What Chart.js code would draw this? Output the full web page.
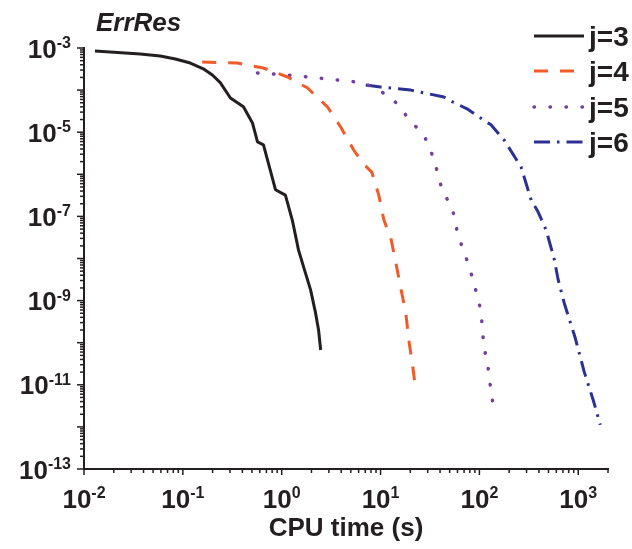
<!DOCTYPE html>
<html><head><meta charset="utf-8">
<script src="https://cdn.jsdelivr.net/npm/chart.js@4/dist/chart.umd.min.js"></script>
<style>html,body{margin:0;padding:0;background:#fff;}#wrap{width:632px;height:549px;position:relative;}</style>
</head><body><div id="wrap"><canvas id="c" width="632" height="549"></canvas></div>
<script>
// ---- data ----
const seriesNames = ['j=3', 'j=4', 'j=5', 'j=6'];

const time_j3 = [0.0129, 0.037, 0.059, 0.084, 0.119, 0.161, 0.199, 0.239, 0.303, 0.41, 0.506, 0.569, 0.654, 0.865, 1.09, 1.28, 1.48, 1.74, 1.96, 2.20, 2.36, 2.48];
const err_j3  = [8.5e-4, 7.2e-4, 6.46e-4, 5.5e-4, 4.4e-4, 3.2e-4, 2.29e-4, 1.5e-4, 6.5e-5, 4.0e-5, 1.66e-5, 5.9e-6, 5.0e-6, 4.3e-7, 3.2e-7, 8.2e-8, 1.58e-8, 4.5e-9, 1.8e-9, 5.1e-10, 2.0e-10, 6.7e-11];

const time_j4 = [0.157, 0.356, 0.653, 1.145, 1.83, 2.91, 3.95, 5.35, 6.6, 8.15, 9.6, 10.8, 12.7, 14.3, 16.0, 18.0, 19.3, 21.2, 22.8];
const err_j4  = [4.65e-4, 4.4e-4, 3.35e-4, 2.05e-4, 1.12e-4, 3.97e-5, 1.33e-5, 3.78e-6, 1.85e-6, 1.13e-6, 3.2e-7, 8.2e-8, 3.07e-8, 7.8e-9, 2.0e-9, 5.1e-10, 1.17e-10, 2.65e-11, 6.8e-12];

const time_j5 = [0.569, 1.145, 2.31, 4.75, 6.76, 9.4, 12.7, 16.0, 20.2, 26.8, 31.5, 35.5, 38.9, 42.8, 52.7, 56.6, 60.7, 68.2, 76.6, 84.1, 92.4, 101.4, 106, 109, 114, 122, 128, 134, 141];
const err_j5  = [2.55e-4, 2.29e-4, 1.94e-4, 1.64e-4, 1.48e-4, 1.0e-4, 6.85e-5, 3.76e-5, 1.75e-5, 9.6e-6, 4.2e-6, 1.86e-6, 8.2e-7, 3.6e-7, 1.78e-7, 7.8e-8, 3.6e-8, 1.68e-8, 7.8e-9, 3.8e-9, 1.69e-9, 7.0e-10, 3.1e-10, 1.36e-10, 6.0e-11, 2.65e-11, 1.1e-11, 5.1e-12, 2.2e-12];

const time_j6 = [7.08, 10.0, 20.2, 43.7, 54, 75, 99, 131, 178, 264, 334, 393, 473, 571, 627, 721, 811, 933, 1151, 1419, 1671];
const err_j6  = [1.32e-4, 1.19e-4, 1.0e-4, 6.85e-5, 5.2e-5, 3.6e-5, 2.3e-5, 1.5e-5, 6.5e-6, 1.49e-6, 2.44e-7, 1.27e-7, 4.75e-8, 9.7e-9, 3.1e-9, 8.8e-10, 3.66e-10, 1.29e-10, 2.0e-11, 4.3e-12, 1.12e-12];

const xLabelExponents = [-2, -1, 0, 1, 2, 3];
const yLabelExponents = [-3, -5, -7, -9, -11, -13];
const chartTitle = 'ErrRes';
const xAxisTitle = 'CPU time (s)';

// ---- styles ----
const AX = '#231f20';
const styles = [
  {color: '#231f20', dash: [], cap: 'butt'},
  {color: '#f15a29', dash: [14, 12], cap: 'butt'},
  {color: '#7440a0', dash: [0.5, 15.5], cap: 'round'},
  {color: '#2b3192', dash: [16, 7, 2.5, 7], cap: 'butt'}
];
const times = [time_j3, time_j4, time_j5, time_j6];
const errs = [err_j3, err_j4, err_j5, err_j6];

const datasets = seriesNames.map((name, i) => ({
  label: name,
  data: times[i].map((t, k) => ({x: t, y: errs[i][k]})),
  showLine: true,
  borderColor: styles[i].color,
  backgroundColor: styles[i].color,
  borderWidth: i === 2 ? 3.5 : 3,
  borderDash: styles[i].dash,
  borderCapStyle: styles[i].cap,
  borderJoinStyle: 'round',
  pointRadius: 0,
  tension: 0,
  fill: false
}));

const FONT = '"Liberation Sans", Arial, sans-serif';

const decorPlugin = {
  id: 'decor',
  afterDraw(chart) {
    const ctx = chart.ctx;
    const xs = chart.scales.x, ys = chart.scales.y;
    const ca = chart.chartArea;
    ctx.save();
    ctx.strokeStyle = AX;
    ctx.fillStyle = AX;
    ctx.lineWidth = 1.5;
    // y ticks
    for (let e = -13; e <= -3; e++) {
      for (let m = 1; m <= 9; m++) {
        const v = m * Math.pow(10, e);
        if (v > ys.max * 1.0001 || v < ys.min * 0.9999) continue;
        const py = ys.getPixelForValue(v);
        const len = m === 1 ? 7 : 4;
        ctx.beginPath();
        ctx.moveTo(ca.left - len, py);
        ctx.lineTo(ca.left, py);
        ctx.stroke();
      }
    }
    // x ticks
    for (let e = -2; e <= 3; e++) {
      for (let m = 1; m <= 9; m++) {
        const v = m * Math.pow(10, e);
        if (v > xs.max * 1.0001 || v < xs.min * 0.9999) continue;
        const px = xs.getPixelForValue(v);
        const len = m === 1 ? 6 : 4;
        ctx.beginPath();
        ctx.moveTo(px, ca.bottom);
        ctx.lineTo(px, ca.bottom + len);
        ctx.stroke();
      }
    }
    const bigF = 'bold 26px ' + FONT;
    const supF = 'bold 16px ' + FONT;
    ctx.textBaseline = 'alphabetic';
    // y labels
    yLabelExponents.forEach(e => {
      const py = ys.getPixelForValue(Math.pow(10, e));
      const sup = String(e);
      ctx.font = supF;
      const sw = ctx.measureText(sup).width;
      ctx.font = bigF;
      const bw = ctx.measureText('10').width;
      const right = 71;
      ctx.textAlign = 'left';
      ctx.font = bigF;
      ctx.fillText('10', right - sw - bw, py + 9.5);
      ctx.font = supF;
      ctx.fillText(sup, right - sw, py);
    });
    // x labels
    xLabelExponents.forEach(e => {
      const px = xs.getPixelForValue(Math.pow(10, e));
      const sup = String(e);
      ctx.font = supF;
      const sw = ctx.measureText(sup).width;
      ctx.font = bigF;
      const bw = ctx.measureText('10').width;
      const left = px - (sw + bw) / 2;
      ctx.textAlign = 'left';
      ctx.font = bigF;
      ctx.fillText('10', left, 508);
      ctx.font = supF;
      ctx.fillText(sup, left + bw, 498);
    });
    // axis title
    ctx.font = 'bold 26px ' + FONT;
    ctx.textAlign = 'center';
    ctx.fillText(xAxisTitle, (ca.left + ca.right) / 2, 536);
    // chart title
    ctx.font = 'italic bold 26px ' + FONT;
    ctx.textAlign = 'left';
    ctx.fillText(chartTitle, 96, 31);
    // legend
    const rows = [36, 71, 107, 142];
    chart.data.datasets.forEach((ds, i) => {
      const y = rows[i];
      ctx.save();
      ctx.strokeStyle = ds.borderColor;
      ctx.lineWidth = ds.borderWidth;
      ctx.setLineDash(ds.borderDash);
      ctx.lineCap = ds.borderCapStyle;
      ctx.beginPath();
      ctx.moveTo(534, y);
      ctx.lineTo(584, y);
      ctx.stroke();
      ctx.restore();
      ctx.font = 'bold 28px ' + FONT;
      ctx.fillStyle = AX;
      ctx.textAlign = 'left';
      ctx.fillText(ds.label, 589, y + 10);
    });
    ctx.restore();
  }
};

new Chart(document.getElementById('c'), {
  type: 'scatter',
  data: {datasets},
  options: {
    responsive: false,
    animation: false,
    devicePixelRatio: 1,
    layout: {padding: {top: 48, right: 24, left: 0, bottom: 0}},
    plugins: {legend: {display: false}, title: {display: false}, tooltip: {enabled: false}},
    scales: {
      x: {
        type: 'logarithmic', min: 0.01, max: 2000,
        grid: {display: false},
        border: {display: true, color: AX, width: 2},
        ticks: {display: false},
        afterFit(s) { s.height = 80; }
      },
      y: {
        type: 'logarithmic', min: 1e-13, max: 1e-3,
        grid: {display: false},
        border: {display: true, color: AX, width: 2},
        ticks: {display: false},
        afterFit(s) { s.width = 84; }
      }
    }
  },
  plugins: [decorPlugin]
});
</script>
</body></html>
